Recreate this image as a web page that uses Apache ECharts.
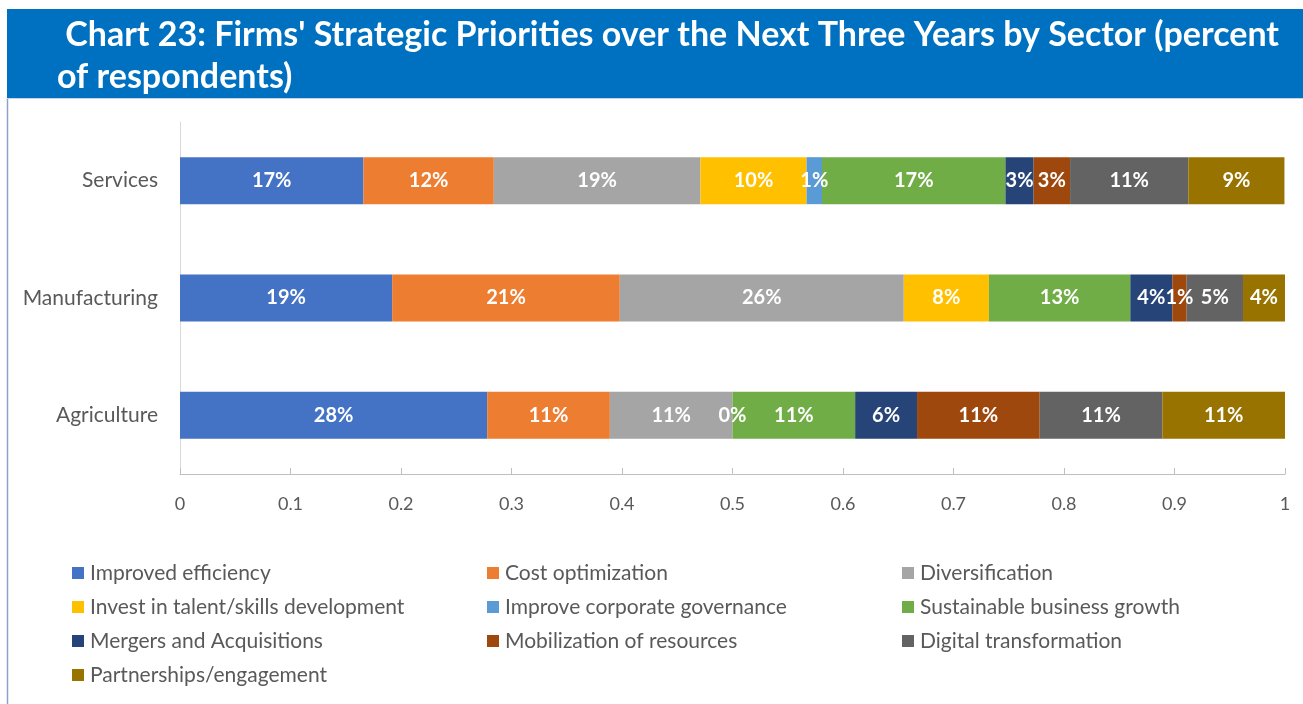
<!DOCTYPE html>
<html>
<head>
<meta charset="utf-8">
<script src="https://cdn.jsdelivr.net/npm/echarts@6/dist/echarts.min.js"></script>
<style>
  html, body { margin: 0; padding: 0; background: #fff; }
  #chart { width: 1303px; height: 704px; }
</style>
</head>
<body>
<div id="chart"></div>
<script>
// sectors, bottom to top as drawn
const sectors = ['Agriculture', 'Manufacturing', 'Services']

const priorities = [
  'Improved efficiency', 'Cost optimization', 'Diversification',
  'Invest in talent/skills development', 'Improve corporate governance', 'Sustainable business growth',
  'Mergers and Acquisitions', 'Mobilization of resources', 'Digital transformation',
  'Partnerships/engagement'
]

// share of respondents per sector: [Agriculture, Manufacturing, Services]
const improvedEfficiency = [0.278, 0.192, 0.166]
const costOptimization = [0.111, 0.206, 0.118]
const diversification = [0.111, 0.257, 0.187]
const investTalent = [0, 0.077, 0.096]
const corporateGovernance = [null, null, 0.014]
const sustainableGrowth = [0.111, 0.128, 0.166]
const mergersAcquisitions = [0.056, 0.038, 0.0255]
const mobilization = [0.111, 0.013, 0.033]
const digitalTransformation = [0.111, 0.051, 0.107]
const partnerships = [0.111, 0.038, 0.087]

const seriesValues = [
  improvedEfficiency, costOptimization, diversification, investTalent, corporateGovernance,
  sustainableGrowth, mergersAcquisitions, mobilization, digitalTransformation, partnerships
]

const xTicks = [0, 0.1, 0.2, 0.3, 0.4, 0.5, 0.6, 0.7, 0.8, 0.9, 1]

const colors = ['#4472C4', '#ED7D31', '#A5A5A5', '#FFC000', '#5B9BD5',
  '#70AD47', '#264478', '#9E480E', '#636363', '#997300']

const FONT = 'Lato, "Open Sans", sans-serif'

const legendCols = [
  [0, 3, 6, 9],
  [1, 4, 7],
  [2, 5, 8]
]
const legendLeft = [72, 487, 902]

const chart = echarts.init(document.getElementById('chart'))

chart.setOption({
  animation: false,
  color: colors,
  textStyle: { fontFamily: FONT },
  title: {
    text: " Chart 23: Firms' Strategic Priorities over the Next Three Years by Sector (percent\nof respondents)",
    left: 57,
    top: 14,
    padding: 0,
    textStyle: {
      color: '#ffffff', fontSize: 34, fontWeight: 'bold', lineHeight: 42, fontFamily: FONT
    }
  },
  graphic: [
    { type: 'rect', z: -1, shape: { x: 7, y: 9, width: 1296, height: 89 },
      style: { fill: '#0070C0' } },
    { type: 'line', shape: { x1: 7.5, y1: 98, x2: 7.5, y2: 704 },
      style: { stroke: '#8EA2C8', lineWidth: 1.5 } },
    { type: 'line', shape: { x1: 7, y1: 98.5, x2: 1303, y2: 98.5 },
      style: { stroke: '#C9D3E6', lineWidth: 1 } }
  ],
  grid: { left: 180, right: 18, top: 122, height: 352, containLabel: false },
  xAxis: {
    type: 'value', min: 0, max: 1, interval: 0.1,
    axisLine: { show: true, lineStyle: { color: '#BFBFBF' } },
    axisTick: { show: true, inside: true, length: 6, lineStyle: { color: '#BFBFBF' } },
    splitLine: { show: false },
    axisLabel: {
      color: '#595959', fontSize: 18, margin: 21,
      formatter: v => {
        const t = xTicks.find(x => Math.abs(x - v) < 1e-6)
        return t == null ? '' : String(t)
      }
    }
  },
  yAxis: {
    type: 'category', data: sectors,
    axisLine: { show: true, lineStyle: { color: '#D9D9D9' } },
    axisTick: { show: false },
    axisLabel: { color: '#595959', fontSize: 21, margin: 22 }
  },
  legend: legendCols.map((idx, i) => ({
    orient: 'vertical',
    left: legendLeft[i],
    top: 562,
    itemWidth: 12,
    itemHeight: 12,
    itemGap: 12,
    icon: 'rect',
    padding: 0,
    selectedMode: false,
    data: idx.map(k => priorities[k]),
    textStyle: { color: '#595959', fontSize: 21, lineHeight: 22, padding: [0, 0, 0, 1] }
  })),
  series: priorities.map((name, i) => ({
    name,
    type: 'bar',
    stack: 'total',
    barWidth: 47,
    data: seriesValues[i],
    label: {
      show: true,
      position: 'inside',
      color: '#ffffff',
      fontSize: 20,
      fontWeight: 'bold',
      formatter: p => p.value == null ? '' : Math.round(p.value * 100) + '%'
    }
  }))
})
</script>
</body>
</html>
